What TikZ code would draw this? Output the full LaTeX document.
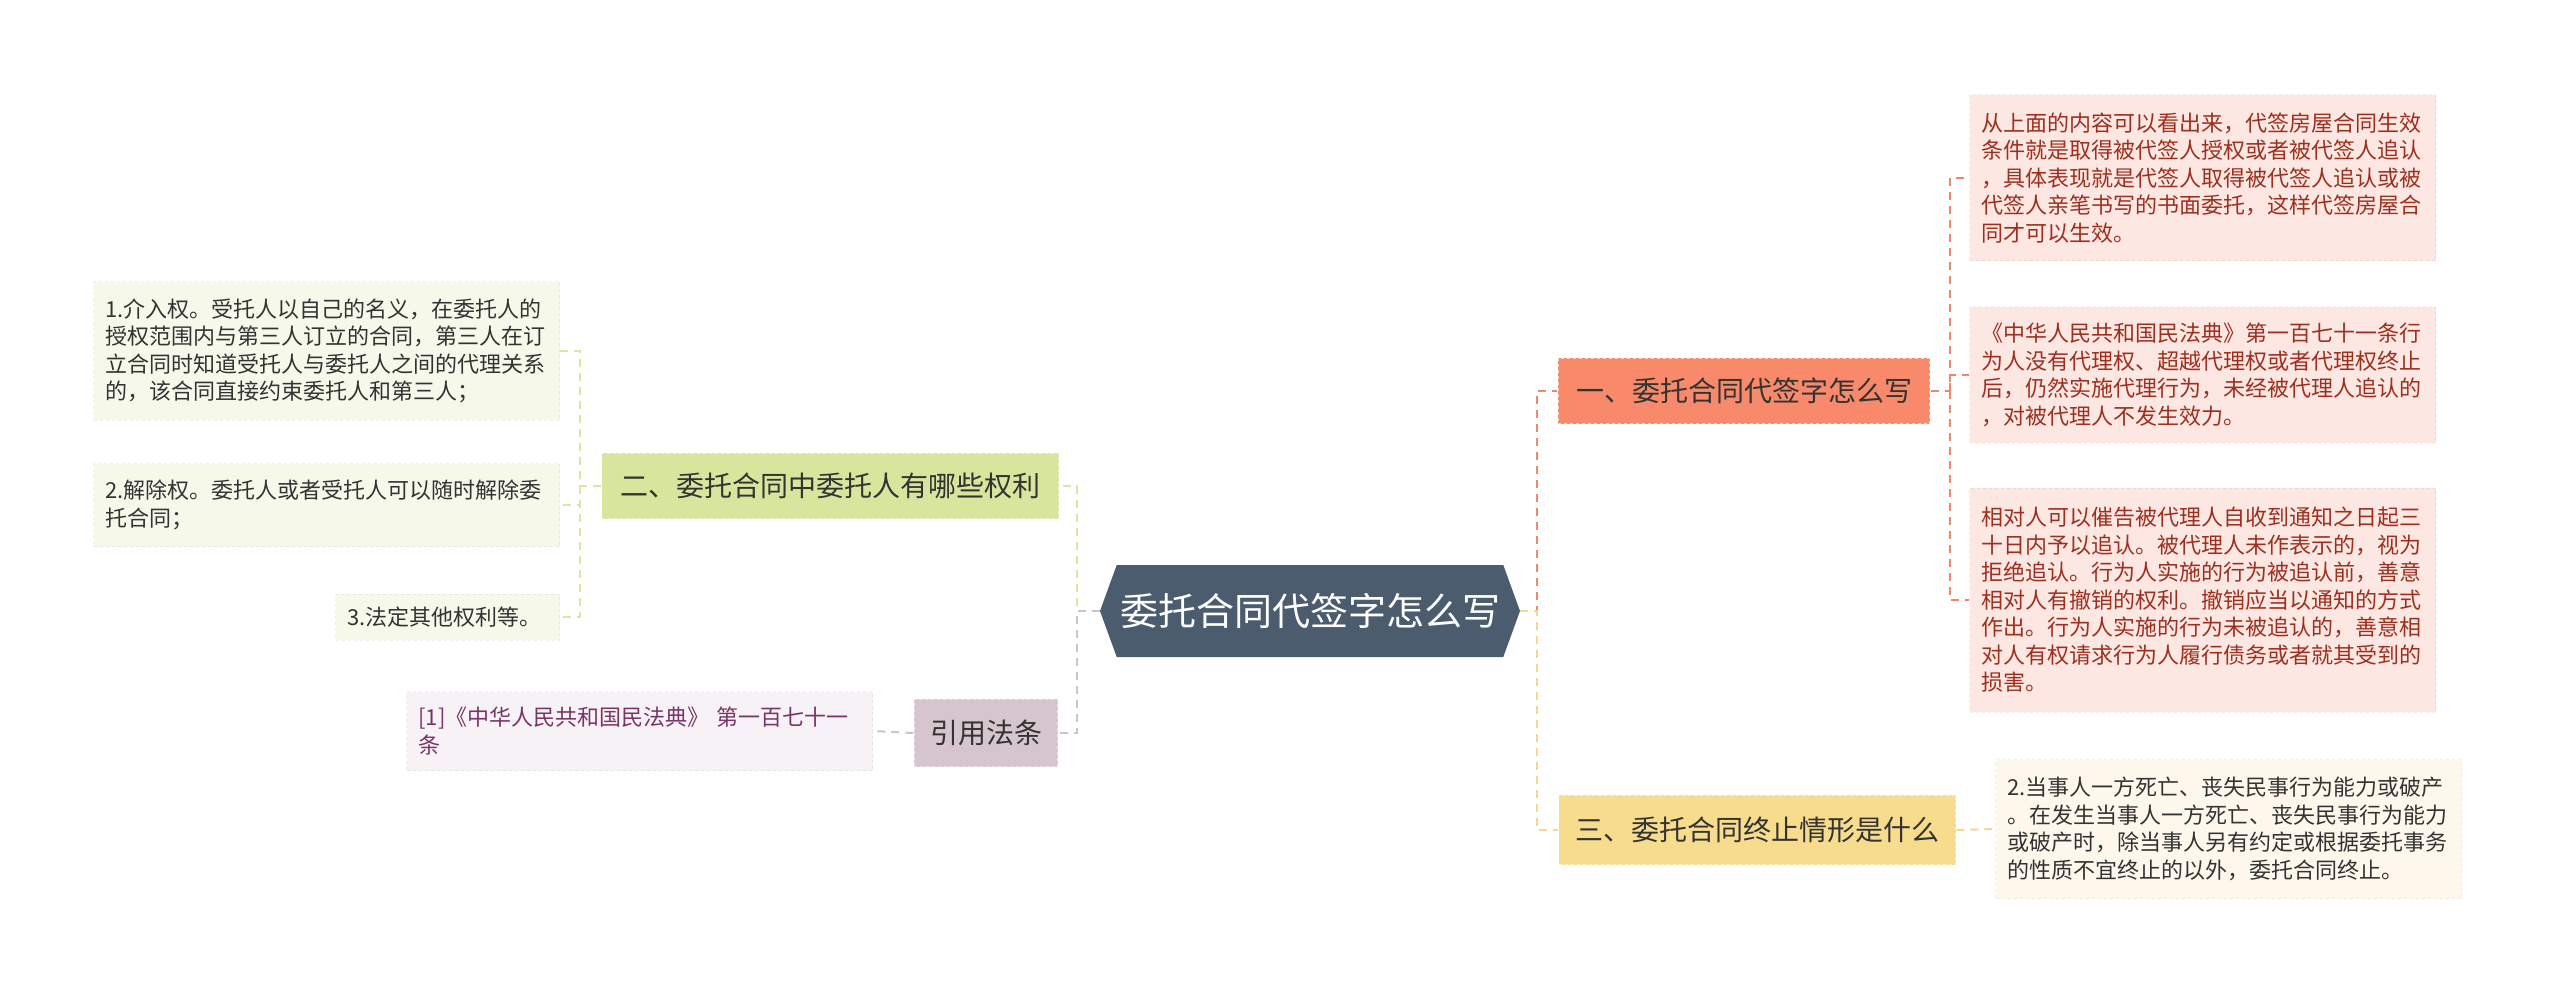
\documentclass[tikz,border=0pt]{standalone}
\usepackage{fontspec}
\setmainfont{Noto Sans CJK SC}
\usetikzlibrary{shapes.symbols}

\definecolor{rootfill}{HTML}{4A5C6D}
\definecolor{bonefill}{HTML}{F88A6B}
\definecolor{btwofill}{HTML}{D7E69C}
\definecolor{bthreefill}{HTML}{F8DC8E}
\definecolor{bfourfill}{HTML}{D7C5CD}
\definecolor{lonefill}{HTML}{FCE7E2}
\definecolor{ltwofill}{HTML}{F6F8EA}
\definecolor{lthreefill}{HTML}{FEF8EC}
\definecolor{lfourfill}{HTML}{F6F2F5}
\definecolor{lonetext}{HTML}{9E2F1E}
\definecolor{lfourtext}{HTML}{7A3566}
\definecolor{textdark}{HTML}{333333}
\definecolor{linkone}{HTML}{F0866A}
\definecolor{linktwo}{HTML}{D9E5A0}
\definecolor{linkthree}{HTML}{F5D88C}
\definecolor{linkfour}{HTML}{C9C6C8}

\begin{document}
\begin{tikzpicture}[
    x=1pt, y=-1pt,
    root/.style={signal, signal to=west and east, signal pointer angle=140, fill=rootfill, text=white,
        minimum width=420pt, minimum height=92pt, inner sep=0pt, font=\fontsize{38}{46}\selectfont},
    branch/.style={rectangle, draw=white, draw opacity=0.6, dashed, line width=1.5pt, minimum height=66pt,
        inner xsep=14pt, text=textdark, font=\fontsize{28}{34}\selectfont},
    leaf/.style={rectangle, draw=black, draw opacity=0.06, dashed, line width=1pt, align=left,
        text width=442pt, inner xsep=12pt, text=textdark, font=\fontsize{22}{27.5}\selectfont},
    link/.style={dash pattern=on 8pt off 6pt, line width=2.5pt},
    leaflink/.style={dash pattern=on 8pt off 6pt, line width=2pt}
]
\fill[white] (0,0) rectangle (2560,992);
\useasboundingbox (0,0) rectangle (2560,992);

% Root
\node[root] (root) at (1310,611) {委托合同代签字怎么写};

% Branches
\node[branch, fill=bonefill, minimum width=372pt] (bone) at (1744,391) {一、委托合同代签字怎么写};
\node[branch, fill=bthreefill, minimum width=397pt, minimum height=70pt] (bthree) at (1757,830) {三、委托合同终止情形是什么};
\node[branch, fill=btwofill, minimum width=457pt] (btwo) at (830,486) {二、委托合同中委托人有哪些权利};
\node[branch, fill=bfourfill, minimum width=144pt, minimum height=68pt] (bfour) at (986,733) {引用法条};

% Leaves, right side
\node[leaf, fill=lonefill, text=lonetext, anchor=west, minimum height=166pt] (lonea) at (1969,178)
    {从上面的内容可以看出来，代签房屋合同生效\\条件就是取得被代签人授权或者被代签人追认\\，具体表现就是代签人取得被代签人追认或被\\代签人亲笔书写的书面委托，这样代签房屋合\\同才可以生效。};
\node[leaf, fill=lonefill, text=lonetext, anchor=west, minimum height=136pt] (loneb) at (1969,375)
    {《中华人民共和国民法典》第一百七十一条行\\为人没有代理权、超越代理权或者代理权终止\\后，仍然实施代理行为，未经被代理人追认的\\，对被代理人不发生效力。};
\node[leaf, fill=lonefill, text=lonetext, anchor=west, minimum height=224pt] (lonec) at (1969,600)
    {相对人可以催告被代理人自收到通知之日起三\\十日内予以追认。被代理人未作表示的，视为\\拒绝追认。行为人实施的行为被追认前，善意\\相对人有撤销的权利。撤销应当以通知的方式\\作出。行为人实施的行为未被追认的，善意相\\对人有权请求行为人履行债务或者就其受到的\\损害。};
\node[leaf, fill=lthreefill, anchor=west, minimum height=139pt] (lthree) at (1995,829)
    {2.当事人一方死亡、丧失民事行为能力或破产\\。在发生当事人一方死亡、丧失民事行为能力\\或破产时，除当事人另有约定或根据委托事务\\的性质不宜终止的以外，委托合同终止。};

% Leaves, left side
\node[leaf, fill=ltwofill, anchor=east, minimum height=138pt] (ltwoa) at (560,351)
    {1.介入权。受托人以自己的名义，在委托人的\\授权范围内与第三人订立的合同，第三人在订\\立合同时知道受托人与委托人之间的代理关系\\的，该合同直接约束委托人和第三人；};
\node[leaf, fill=ltwofill, anchor=east, minimum height=83pt] (ltwob) at (560,505)
    {2.解除权。委托人或者受托人可以随时解除委\\托合同；};
\node[leaf, fill=ltwofill, anchor=east, text width=200pt, minimum height=46pt] (ltwoc) at (560,617)
    {3.法定其他权利等。};
\node[leaf, fill=lfourfill, text=lfourtext, anchor=east, minimum height=79pt] (lfour) at (873,731)
    {[1]《中华人民共和国民法典》 第一百七十一\\条};

% Junctions
\coordinate (jr) at (1537,611);
\coordinate (jl) at (1077,611);
\coordinate (jone) at (1950,391);
\coordinate (jtwo) at (580,486);

% Connectors
\draw[link, color=linkone] (root.east) -- (jr) |- (bone.west);
\draw[link, color=linkthree] (root.east) -- (jr) |- (bthree.west);
\draw[link, color=linktwo] (root.west) -- (jl) |- (btwo.east);
\draw[link, color=linkfour] (root.west) -- (jl) |- (bfour.east);

\draw[leaflink, color=linkone] (bone.east) -- (jone) |- (lonea.west);
\draw[leaflink, color=linkone] (jone) |- (loneb.west);
\draw[leaflink, color=linkone] (jone) |- (lonec.west);
\draw[leaflink, color=linkthree] (bthree.east) -- (lthree.west);
\draw[leaflink, color=linktwo] (btwo.west) -- (jtwo) |- (ltwoa.east);
\draw[leaflink, color=linktwo] (jtwo) |- (ltwob.east);
\draw[leaflink, color=linktwo] (jtwo) |- (ltwoc.east);
\draw[leaflink, color=linkfour] (bfour.west) -- (lfour.east);
\end{tikzpicture}
\end{document}
